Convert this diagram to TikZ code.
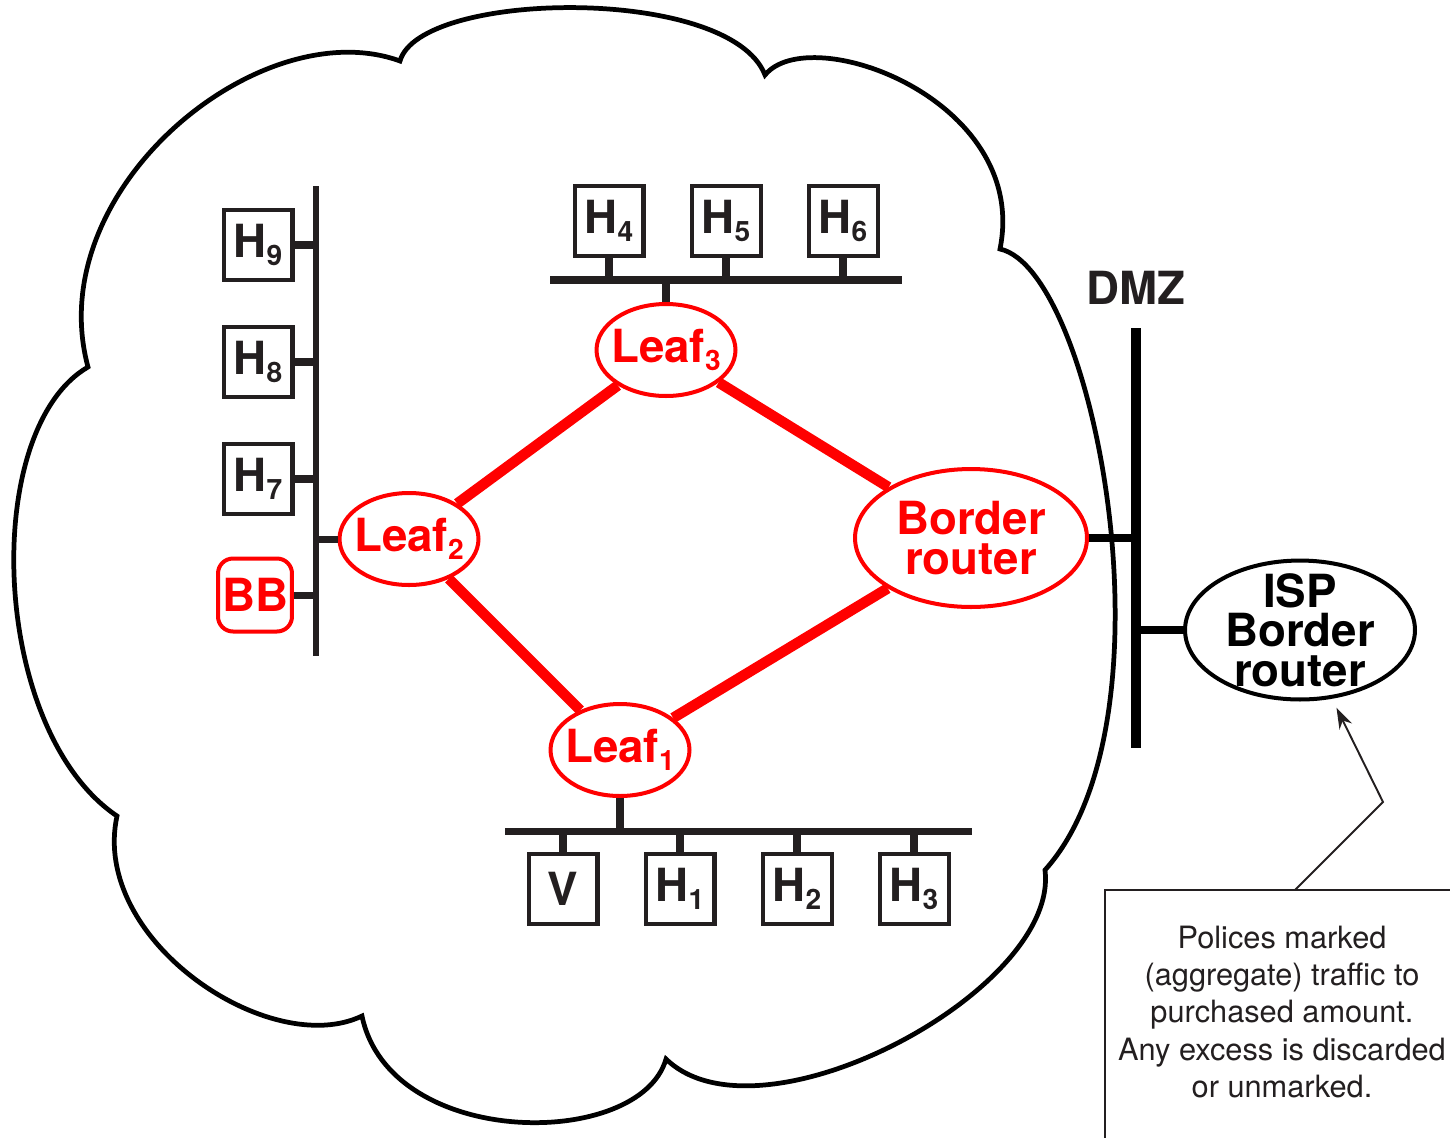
\documentclass[tikz,border=0pt]{standalone}
\usepackage{fontspec}
\setmainfont{TeX Gyre Heros}
\usetikzlibrary{positioning, arrows.meta, shapes}
\usepackage{xcolor}
\definecolor{ink}{RGB}{35,31,32}
\newcommand{\lblfont}{\fontsize{26pt}{22.5pt}\selectfont\bfseries}
\newcommand{\hidx}[1]{\raisebox{-4.6pt}{\fontsize{16pt}{16pt}\selectfont #1}}

\begin{document}
\begin{tikzpicture}[x=0.02cm, y=-0.02cm]
  \tikzstyle{host} = [rectangle, draw=ink, line width=2.28pt, text=ink, font=\lblfont,
    minimum width=1.38cm, minimum height=1.40cm, inner sep=0pt]
  \tikzstyle{leaf} = [ellipse, draw=red, line width=2.28pt, text=red, font=\lblfont,
    align=center, minimum width=2.78cm, minimum height=1.84cm, inner sep=-0.6cm]
  \tikzstyle{bbox} = [rectangle, rounded corners=0.3cm, draw=red, line width=2.28pt,
    text=red, font=\lblfont, minimum width=1.48cm, minimum height=1.46cm, inner sep=0pt]
  \tikzstyle{link} = [draw=red, line width=6pt]
  \tikzstyle{bus} = [draw=ink, line width=4pt]
  \tikzstyle{stub} = [draw=ink, line width=4pt]
  \tikzstyle{pointer} = [draw=ink, line width=1.1pt, -{Stealth[length=0.42cm, width=0.28cm]},
    shorten >=0.2cm]

  \useasboundingbox (0,0) rectangle (1450,1137);
  \clip (0,0) rectangle (1450,1137);

  % Nube
  \draw[line width=2.7pt] (88,367) .. controls (40,190) and (260,10) .. (400,61)
    .. controls (420,-10) and (730,-15) .. (765,75)
    .. controls (810,20) and (1030,100) .. (1000,249)
    .. controls (1095,270) and (1180,720) .. (1045,870)
    .. controls (1060,990) and (760,1150) .. (666,1059)
    .. controls (640,1150) and (390,1150) .. (362,1016)
    .. controls (270,1060) and (90,940) .. (117,816)
    .. controls (-10,730) and (-20,430) .. (88,367) -- cycle;

  % Bus izquierdo
  \coordinate (lbus) at (316,186);
  \coordinate (lbusend) at (316,656);
  \draw[bus, line width=3.7pt] (lbus) -- (lbusend);
  \foreach \i/\y in {9/245, 8/362, 7/479}
    \node[host] (h\i) at (258,\y) {H\hidx{\i}};
  \node[bbox] (bb) at (255,595) {BB};

  % Bus superior
  \coordinate (tbus) at (550,280);
  \coordinate (tbusend) at (902,280);
  \draw[bus] (tbus) -- (tbusend);
  \foreach \i/\x in {4/609, 5/726, 6/843}
    \node[host] (h\i) at (\x,221) {H\hidx{\i}};

  % Bus inferior
  \coordinate (bbus) at (505,831);
  \coordinate (bbusend) at (972,831);
  \draw[bus] (bbus) -- (bbusend);
  \node[host] (v) at (563,889) {V};
  \foreach \i/\x in {1/680, 2/797, 3/914}
    \node[host] (h\i) at (\x,889) {H\hidx{\i}};

  % Routers
  \node[leaf] (leaf3) at (666,350) {Leaf\hidx{3}};
  \node[leaf] (leaf2) at (409,539) {Leaf\hidx{2}};
  \node[leaf] (leaf1) at (620,750) {Leaf\hidx{1}};
  \node[leaf, minimum width=4.64cm, minimum height=2.76cm] (border) at (971,538) {Border\\router};
  \node[leaf, draw=black, text=black, minimum width=4.60cm, minimum height=2.78cm] (isp) at (1300,630) {ISP\\Border\\router};

  % Conexiones al bus
  \foreach \n in {h9, h8, h7, bb, leaf2}
    \draw[stub] (\n) -- (\n -| lbus);
  \foreach \n in {h4, h5, h6, leaf3}
    \draw[stub] (\n) -- (\n |- tbus);
  \foreach \n in {v, h1, h2, h3, leaf1}
    \draw[stub] (\n) -- (\n |- bbus);

  % Enlaces entre routers
  \draw[link] (leaf3) -- (leaf2);
  \draw[link] (leaf3) -- (border);
  \draw[link] (leaf2) -- (leaf1);
  \draw[link] (leaf1) -- (border);

  % DMZ
  \node[font=\lblfont, text=ink] (dmzlbl) at (1136,288) {DMZ};
  \coordinate (dmz) at (1136,328);
  \coordinate (dmzend) at (1136,748);
  \draw[line width=5.7pt] (dmz) -- (dmzend);
  \draw[line width=5.1pt] (border) -- (border -| dmz);
  \draw[line width=5.1pt] (isp) -- (isp -| dmz);

  % Nota
  \draw[ink, line width=1.1pt] (1105,1150) |- (1460,890);
  \node[align=center, text=ink, font=\fontsize{17.5pt}{21.3pt}\selectfont] (note) at (1282,1012)
    {Polices marked\\(aggregate) traffic to\\purchased amount.\\Any excess is discarded\\or unmarked.};
  \coordinate (notetop) at (1295,890);
  \coordinate (bend) at (1383,802);
  \draw[pointer] (notetop) -- (bend) -- (isp.-65);
\end{tikzpicture}
\end{document}
